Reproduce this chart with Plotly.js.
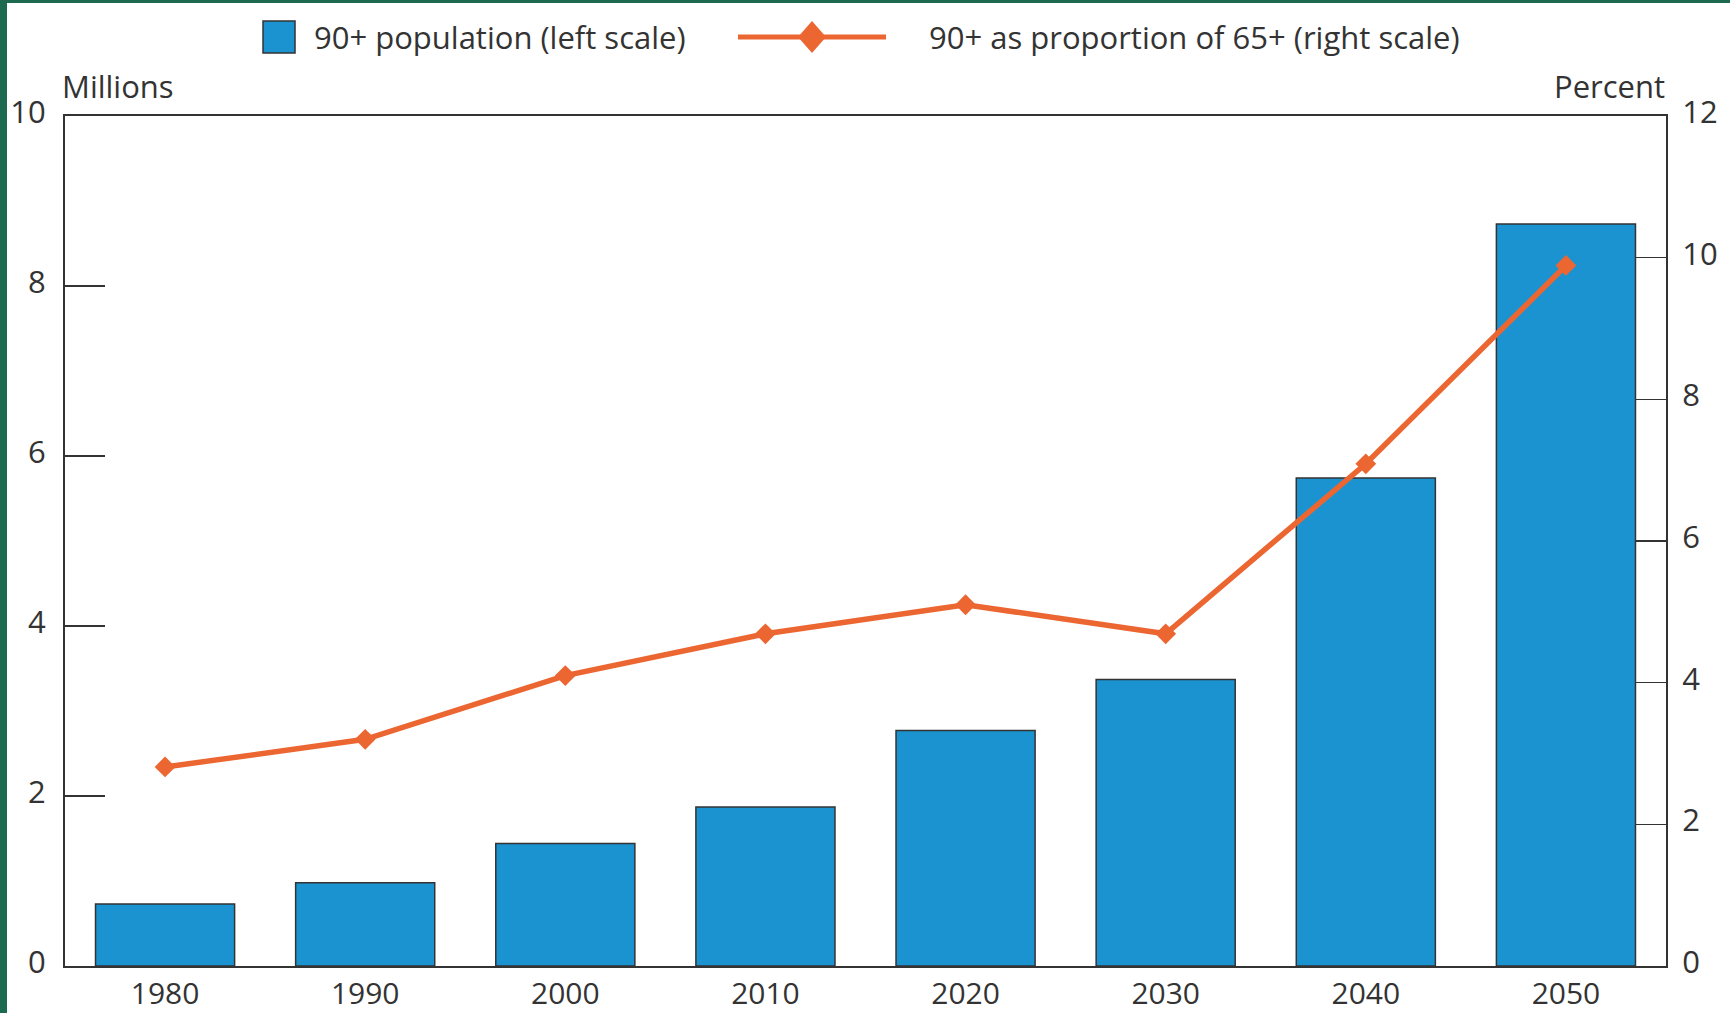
<!DOCTYPE html>
<html>
<head>
<meta charset="utf-8">
<script src="https://cdn.plot.ly/plotly-3.0.1.min.js"></script>
<style>
  html, body { margin: 0; padding: 0; background: #1e6a50; width: 1730px; height: 1013px; overflow: hidden; }
  #chart { position: absolute; left: 7px; top: 3px; width: 1723px; height: 1010px; background: #ffffff; }
</style>
</head>
<body>
<div id="chart"></div>
<script>
// ---- data ----
const years = ['1980', '1990', '2000', '2010', '2020', '2030', '2040', '2050'];
const pop90 = [0.73, 0.98, 1.44, 1.87, 2.77, 3.37, 5.74, 8.73];      // millions (left scale)
const share90of65 = [2.81, 3.20, 4.10, 4.69, 5.10, 4.69, 7.09, 9.89]; // percent (right scale)
const barName = '90+ population (left scale)';
const lineName = '90+ as proportion of 65+ (right scale)';
const leftTitle = 'Millions';
const rightTitle = 'Percent';

// ---- style ----
const BLUE = '#1b93d1';
const ORANGE = '#ec6632';
const DARK = '#333333';
const FONT = 'Open Sans, sans-serif';
const FS = 31;

// plot area geometry in page pixels (used only to place legend items)
const W = 1723, H = 1010, OX = 7, OY = 3;
const M = { l: 58, r: 64, t: 113, b: 47 };
const pw = W - M.l - M.r, ph = H - M.t - M.b;
const px = x => (x - OX - M.l) / pw;
const py = y => (H - M.b - (y - OY)) / ph;

const traces = [
  {
    type: 'bar', x: years, y: pop90, name: barName, yaxis: 'y',
    marker: { color: BLUE, line: { color: DARK, width: 1.5 } },
    hoverinfo: 'x+y'
  },
  {
    type: 'scatter', mode: 'lines+markers', x: years, y: share90of65, name: lineName, yaxis: 'y2',
    line: { color: ORANGE, width: 5.5 },
    marker: { symbol: 'diamond', size: 16, color: ORANGE },
    hoverinfo: 'x+y'
  }
];

// diamond legend symbol
const dcx = px(812), dcy = py(37), ddx = 14 / pw, ddy = 16 / ph;

const layout = {
  width: W, height: H,
  margin: M,
  paper_bgcolor: '#ffffff', plot_bgcolor: '#ffffff',
  font: { family: FONT, size: FS, color: DARK },
  showlegend: false,
  bargap: 0.305,
  xaxis: {
    type: 'category', range: [-0.5, 7.5],
    showline: true, linecolor: DARK, linewidth: 2, mirror: true,
    ticks: '', showgrid: false, zeroline: false,
    tickfont: { family: FONT, size: 30, color: DARK }
  },
  yaxis: {
    range: [0, 10], dtick: 2, tick0: 0,
    showline: true, linecolor: DARK, linewidth: 2,
    ticks: 'inside', ticklen: 40, tickwidth: 1.5, tickcolor: DARK,
    showgrid: false, zeroline: false,
    ticklabelstandoff: 11, ticklabelshift: -4,
    tickfont: { family: FONT, size: FS, color: DARK }
  },
  yaxis2: {
    range: [0, 12], dtick: 2, tick0: 0,
    overlaying: 'y', side: 'right',
    showline: true, linecolor: DARK, linewidth: 2,
    ticks: 'inside', ticklen: 31, tickwidth: 1.5, tickcolor: DARK,
    showgrid: false, zeroline: false,
    ticklabelstandoff: 8, ticklabelshift: -4,
    tickfont: { family: FONT, size: FS, color: DARK }
  },
  shapes: [
    { type: 'rect', xref: 'paper', yref: 'paper', x0: px(263), x1: px(295), y0: py(53), y1: py(21),
      fillcolor: BLUE, line: { color: DARK, width: 1.5 } },
    { type: 'line', xref: 'paper', yref: 'paper', x0: px(738), x1: px(886), y0: py(37), y1: py(37),
      line: { color: ORANGE, width: 5 } },
    { type: 'path', xref: 'paper', yref: 'paper',
      path: `M ${dcx - ddx},${dcy} L ${dcx},${dcy + ddy} L ${dcx + ddx},${dcy} L ${dcx},${dcy - ddy} Z`,
      fillcolor: ORANGE, line: { color: ORANGE, width: 0 } }
  ],
  annotations: [
    { text: barName, xref: 'paper', yref: 'paper', x: px(312), y: py(37), xanchor: 'left', yanchor: 'middle',
      showarrow: false, font: { family: FONT, size: FS, color: DARK } },
    { text: lineName, xref: 'paper', yref: 'paper', x: px(927), y: py(37), xanchor: 'left', yanchor: 'middle',
      showarrow: false, font: { family: FONT, size: FS, color: DARK } },
    { text: leftTitle, xref: 'paper', yref: 'paper', x: px(60), y: py(86), xanchor: 'left', yanchor: 'middle',
      showarrow: false, font: { family: FONT, size: FS, color: DARK } },
    { text: rightTitle, xref: 'paper', yref: 'paper', x: px(1667), y: py(86), xanchor: 'right', yanchor: 'middle',
      showarrow: false, font: { family: FONT, size: FS, color: DARK } }
  ]
};

Plotly.newPlot('chart', traces, layout, { displayModeBar: false, staticPlot: true });
</script>
</body>
</html>
